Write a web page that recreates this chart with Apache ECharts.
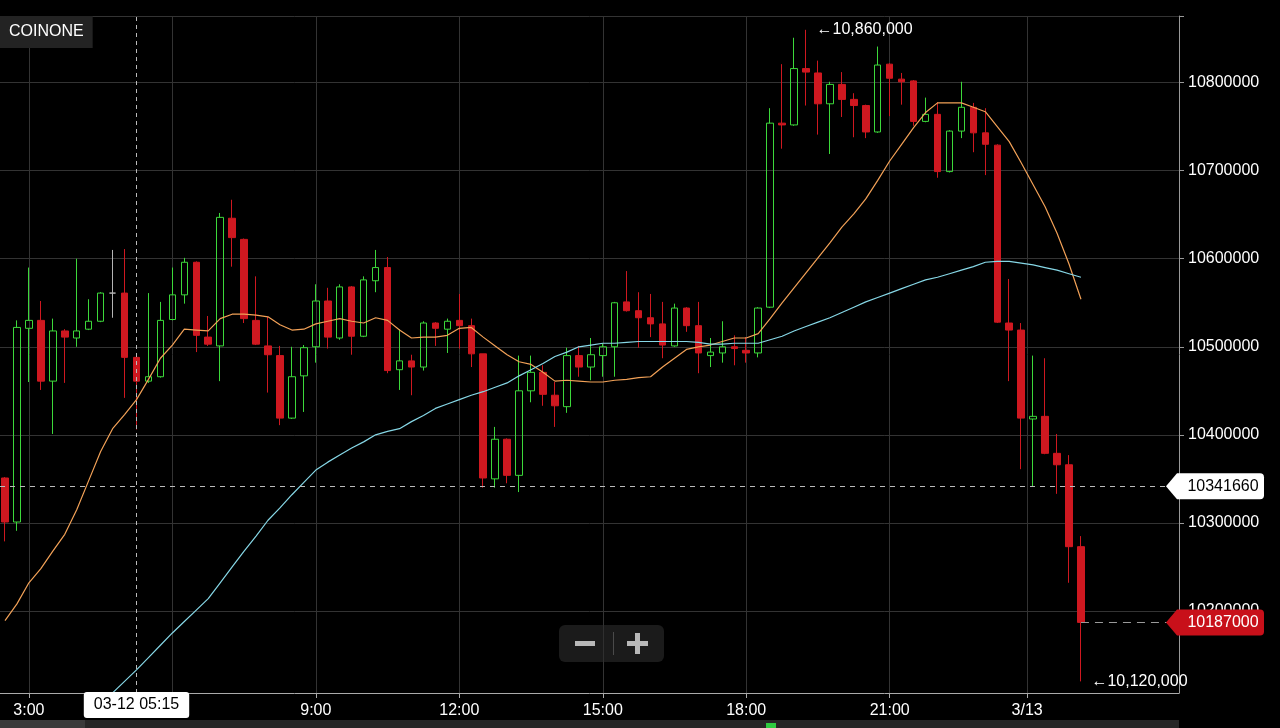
<!DOCTYPE html>
<html>
<head>
<meta charset="utf-8">
<title>COINONE</title>
<script src="https://cdn.jsdelivr.net/npm/echarts@6.0.0/dist/echarts.min.js"></script>
<style>
html,body{margin:0;padding:0;background:#000;overflow:hidden;}
#chart{width:1280px;height:728px;}
</style>
</head>
<body>
<div id="chart"></div>
<script>
// 15-minute candles from 03-12 02:30 to 03-13 01:00
const times = (function () {
  const out = []; let d = 12, h = 2, m = 30;
  for (let i = 0; i < 91; i++) {
    out.push('03-' + d + ' ' + String(h).padStart(2, '0') + ':' + String(m).padStart(2, '0'));
    m += 15; if (m === 60) { m = 0; h++; if (h === 24) { h = 0; d++; } }
  }
  return out;
})();

const opens = [
10351000,10301000,10521000,10530000,10461000,10518000,10510000,10520000,10529000,10561000,
10561000,10488000,10461000,10466000,10531000,10559000,10596000,10511000,10501000,10646000,
10622000,10530000,10501000,10490000,10419000,10467000,10500000,10552000,10510000,10568000,
10512000,10575000,10590000,10474000,10484000,10477000,10527000,10520000,10530000,10524000,
10492000,10350000,10395000,10354000,10450000,10471000,10445000,10432000,10490000,10477000,
10490000,10500000,10551000,10541000,10533000,10526000,10501000,10544000,10524000,10490000,
10493000,10500000,10496000,10493000,10545000,10754000,10752000,10816000,10811000,10776000,
10798000,10781000,10774000,10744000,10821000,10804000,10802000,10756000,10764000,10699000,
10745000,10772000,10743000,10729000,10527000,10519000,10418000,10421000,10379000,10366000,
10273000];
const closes = [
10301000,10522000,10530000,10461000,10518000,10511000,10518000,10529000,10561000,10561000,
10488000,10461000,10466000,10530000,10559000,10596000,10513000,10503000,10647000,10624000,
10532000,10503000,10491000,10419000,10466000,10499000,10552000,10511000,10568000,10512000,
10576000,10590000,10473000,10484000,10477000,10527000,10521000,10529000,10524000,10492000,
10351000,10395000,10354000,10450000,10471000,10446000,10433000,10490000,10477000,10491000,
10500000,10550000,10541000,10533000,10526000,10502000,10544000,10524000,10493000,10494000,
10500000,10498000,10493000,10544000,10754000,10752000,10816000,10812000,10776000,10798000,
10781000,10774000,10744000,10820000,10805000,10801000,10756000,10764000,10699000,10745000,
10772000,10743000,10730000,10528000,10519000,10419000,10421000,10379000,10366000,10273000,
10187000];
const lows = [
10279000,10291000,10460000,10451000,10401000,10459000,10500000,10519000,10528000,10533000,
10442000,10406000,10459000,10465000,10530000,10549000,10494000,10501000,10461000,10591000,
10527000,10502000,10448000,10411000,10418000,10426000,10482000,10498000,10508000,10491000,
10511000,10562000,10470000,10451000,10445000,10473000,10501000,10493000,10498000,10477000,
10340000,10340000,10345000,10335000,10437000,10433000,10409000,10425000,10466000,10462000,
10466000,10466000,10540000,10499000,10511000,10487000,10500000,10517000,10470000,10477000,
10482000,10479000,10482000,10488000,10544000,10725000,10751000,10774000,10741000,10719000,
10761000,10738000,10737000,10743000,10762000,10775000,10751000,10755000,10692000,10698000,
10737000,10721000,10695000,10527000,10461000,10361000,10341000,10378000,10333000,10232000,
10120000];
const highs = [
10352000,10530000,10590000,10552000,10532000,10520000,10600000,10554000,10562000,10610000,
10611000,10488000,10561000,10551000,10590000,10601000,10597000,10535000,10652000,10667000,
10623000,10580000,10534000,10501000,10500000,10502000,10571000,10567000,10571000,10569000,
10580000,10610000,10602000,10520000,10491000,10529000,10528000,10532000,10560000,10532000,
10492000,10409000,10396000,10490000,10490000,10479000,10460000,10499000,10501000,10510000,
10504000,10551000,10586000,10562000,10560000,10551000,10549000,10545000,10551000,10510000,
10529000,10513000,10511000,10545000,10771000,10821000,10851000,10860000,10825000,10801000,
10812000,10788000,10775000,10841000,10822000,10811000,10803000,10783000,10778000,10746000,
10801000,10777000,10771000,10730000,10577000,10527000,10490000,10487000,10401000,10377000,
10285000];

// moving averages (orange = short, cyan = long)
const maShort = [
10189000,10208000,10232000,10248000,10268000,10287000,10315000,10348000,10381000,10407000,
10423000,10440000,10463000,10487000,10502000,10520000,10519000,10518000,10532000,10537000,
10537000,10536000,10534000,10525000,10519000,10520000,10526000,10529000,10532000,10529000,
10527000,10533000,10530000,10519000,10510000,10511000,10511000,10513000,10521000,10522000,
10511000,10501000,10491000,10483000,10480000,10471000,10461000,10462000,10461000,10460000,
10460000,10462000,10463000,10465000,10466000,10477000,10487000,10497000,10500000,10502000,
10506000,10510000,10510000,10515000,10532000,10550000,10567000,10584000,10601000,10618000,
10636000,10651000,10668000,10689000,10711000,10730000,10749000,10766000,10777000,10777000,
10777000,10772000,10767000,10750000,10733000,10709000,10684000,10659000,10629000,10594000,
10554000];
const maLong = [
null,null,null,null,null,null,null,null,10094000,10107000,
10120000,10133000,10147000,10161000,10175000,10188000,10201000,10214000,10232000,10250000,
10268000,10285000,10303000,10317000,10332000,10346000,10360000,10369000,10377000,10385000,
10392000,10400000,10404000,10407000,10415000,10422000,10430000,10435000,10440000,10445000,
10449000,10454000,10459000,10467000,10474000,10481000,10489000,10494000,10500000,10502000,
10504000,10504000,10505000,10506000,10506000,10506000,10506000,10506000,10505000,10503000,
10503000,10504000,10504000,10504000,10508000,10512000,10518000,10523000,10528000,10533000,
10539000,10545000,10551000,10556000,10561000,10566000,10571000,10576000,10579000,10583000,
10587000,10591000,10596000,10597000,10597000,10595000,10593000,10590000,10587000,10583000,
10579000];

// axes
const gridTicks  = [2, 14, 26, 38, 50, 62, 74, 85.5];
const labelTicks = [2, 26, 38, 50, 62, 74, 85.5];
const tickLabels = ['3:00', '9:00', '12:00', '15:00', '18:00', '21:00', '3/13'];
const priceTicks = [10200000, 10300000, 10400000, 10500000, 10600000, 10700000, 10800000];

// annotations
const crosshairIdx = 11;
const crosshairPrice = 10341660;
const lastPrice = 10187000;

const FONT = '"Liberation Sans", Arial, Helvetica, sans-serif';
const XMIN = -0.418, XMAX = 98.2;
const YMIN = 10106800, YMAX = 10875700;
const GREEN = '#3cd83a', RED = '#cf1820';

const candleData = times.map((t, i) => [i, opens[i], closes[i], lows[i], highs[i]]);
const shortData = maShort.map((v, i) => [i, v]);
const longData = maLong.map((v, i) => v == null ? null : [i, v]).filter(Boolean);

const arrowPath = 'path://M0,13L11,0L94,0Q98,0,98,4L98,22Q98,26,94,26L11,26Z';

const chart = echarts.init(document.getElementById('chart'), null, { renderer: 'canvas' });
chart.setOption({
  backgroundColor: '#000',
  animation: false,
  textStyle: { fontFamily: FONT },
  title: {
    text: 'COINONE', left: 0, top: 16, padding: [8, 9, 8, 9], backgroundColor: '#232323',
    textStyle: { color: '#fff', fontSize: 16, fontWeight: 'normal', fontFamily: FONT }
  },
  grid: { left: 0, right: 101, top: 16, bottom: 35, containLabel: false, outerBoundsMode: 'none' },
  xAxis: {
    type: 'value', min: XMIN, max: XMAX,
    axisLine: { show: true, onZero: false, lineStyle: { color: '#aaa', width: 1 } },
    axisTick: { show: true, length: 5, lineStyle: { color: '#aaa' }, customValues: gridTicks },
    axisLabel: {
      show: true, customValues: labelTicks, color: '#fff', fontSize: 16, margin: 10, fontFamily: FONT,
      formatter: function (v) {
        for (let k = 0; k < labelTicks.length; k++) if (Math.abs(labelTicks[k] - v) < 1e-6) return tickLabels[k];
        return '';
      }
    },
    splitLine: { show: true, lineStyle: { color: '#333', width: 1 } }
  },
  yAxis: {
    type: 'value', position: 'right', min: YMIN, max: YMAX,
    axisLine: { show: true, onZero: false, lineStyle: { color: '#999' } },
    axisTick: { show: true, length: 5, lineStyle: { color: '#999' }, customValues: priceTicks.concat([YMAX]) },
    axisLabel: { customValues: priceTicks, color: '#fff', fontSize: 16, margin: 9, fontFamily: FONT, formatter: v => String(v) },
    splitLine: { show: true, lineStyle: { color: '#333', width: 1 } }
  },
  series: [
    {
      type: 'candlestick', name: 'BTC/KRW', data: candleData, barWidth: 7, z: 2,
      itemStyle: { color: 'transparent', color0: RED, borderColor: GREEN, borderColor0: RED, borderColorDoji: '#b4b4b4', borderWidth: 1 },
      markPoint: {
        silent: true, symbol: 'circle', symbolSize: 1, itemStyle: { color: 'rgba(0,0,0,0)' },
        label: {
          show: true, position: 'right', distance: 10, color: '#fff', fontSize: 16, fontFamily: FONT,
          formatter: p => '\u2190' + Number(p.value).toLocaleString('en-US')
        },
        data: [{ type: 'max', valueDim: 'highest' }, { type: 'min', valueDim: 'lowest' }]
      }
    },
    {
      type: 'line', name: 'MA short', data: shortData, symbol: 'none', z: 3,
      lineStyle: { color: '#f2a157', width: 1.2 }
    },
    {
      type: 'line', name: 'MA long', data: longData, symbol: 'none', z: 3,
      lineStyle: { color: '#86d7e6', width: 1.2 }
    },
    {
      type: 'line', name: 'guides', data: [], z: 5,
      markLine: {
        silent: true, symbol: ['none', 'none'], animation: false,
        label: { show: false },
        data: [
          {
            xAxis: crosshairIdx,
            lineStyle: { color: '#bbb', width: 1, type: [4, 4] },
            label: {
              show: true, position: 'start', distance: -1, formatter: times[crosshairIdx],
              color: '#000', backgroundColor: '#fff', padding: [5, 10, 5, 10], borderRadius: 3,
              fontSize: 16, fontFamily: FONT
            }
          },
          { yAxis: crosshairPrice, lineStyle: { color: '#bbb', width: 1, type: [5, 5] }, label: { show: false } },
          [
            { coord: [90, lastPrice], lineStyle: { color: '#9a9a9a', width: 1, type: [8, 6] }, label: { show: false } },
            { coord: [XMAX, lastPrice] }
          ]
        ]
      },
      markPoint: {
        silent: true, symbol: arrowPath, symbolSize: [98, 26], symbolKeepAspect: false,
        label: { show: true, position: 'inside', offset: [8, 0], fontSize: 16, fontFamily: FONT },
        data: [
          { coord: [XMAX, crosshairPrice], symbolOffset: [36, 0], itemStyle: { color: '#fff' },
            label: { color: '#000', formatter: String(crosshairPrice) } },
          { coord: [XMAX, lastPrice], symbolOffset: [36, 0], itemStyle: { color: '#c8101a' },
            label: { color: '#fff', formatter: String(lastPrice) } }
        ]
      }
    }
  ],
  graphic: {
    elements: [
      { type: 'rect', left: 559, top: 625, z: 100, shape: { width: 105, height: 37, r: 6 }, style: { fill: 'rgba(45,45,45,0.6)' } },
      { type: 'rect', left: 575, top: 641, z: 101, shape: { width: 20, height: 5 }, style: { fill: '#b8b8b8' } },
      { type: 'rect', left: 613, top: 632, z: 101, shape: { width: 1, height: 23 }, style: { fill: '#4a4a4a' } },
      { type: 'rect', left: 627, top: 641, z: 101, shape: { width: 21, height: 5 }, style: { fill: '#b8b8b8' } },
      { type: 'rect', left: 635, top: 633, z: 101, shape: { width: 5, height: 21 }, style: { fill: '#b8b8b8' } },
      { type: 'rect', left: 0, top: 720, z: 100, shape: { width: 85, height: 8 }, style: { fill: '#3a3a3a' } },
      { type: 'rect', left: 85, top: 720, z: 100, shape: { width: 1094, height: 8 }, style: { fill: '#262626' } },
      { type: 'rect', left: 766, top: 723, z: 101, shape: { width: 10, height: 5 }, style: { fill: '#2ecc40' } }
    ]
  }
});
</script>
</body>
</html>
